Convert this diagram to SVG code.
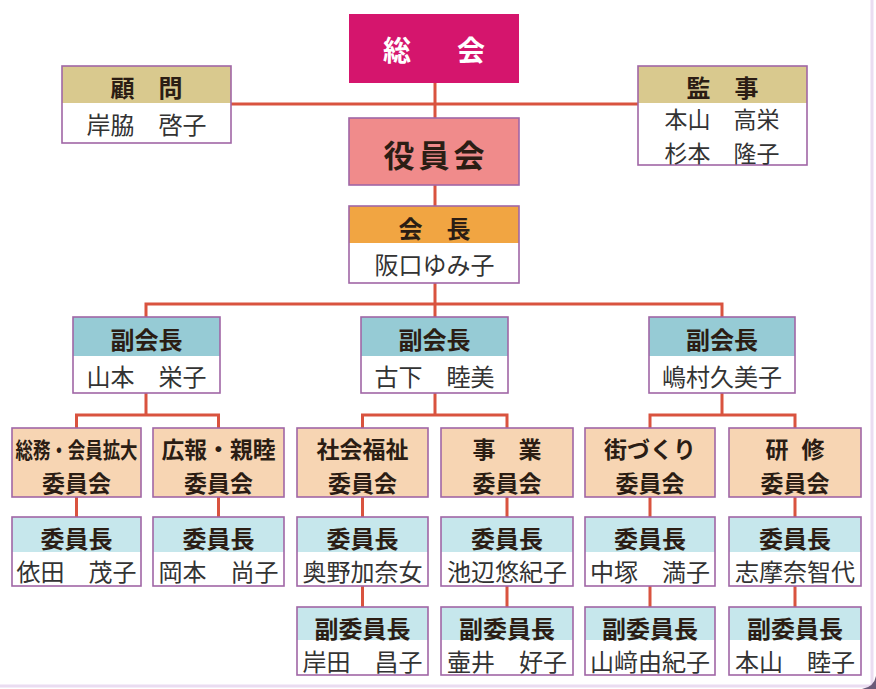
<svg xmlns="http://www.w3.org/2000/svg" width="876" height="689" viewBox="0 0 876 689">
<style>
text{font-family:"Noto Sans CJK JP","Noto Sans CJK SC",sans-serif;text-anchor:middle;dominant-baseline:central}
.h{font-size:24px;font-weight:bold;fill:#2b1d14}
.n{font-size:24px;fill:#333}
.h2{font-size:23px;font-weight:bold;fill:#2b1d14}
.box{fill:none;stroke:#a066a6;stroke-width:1.6}
.tan{fill:#d9c98e}.org{fill:#f1a542}.tl{fill:#96cbd5}.lt{fill:#c6e7ec}.wh{fill:#fff}
.pch{fill:#f7d5b3;stroke:#a066a6;stroke-width:1.6}
.c{stroke:#d9533f;stroke-width:3;fill:none}
</style>
<rect width="876" height="689" fill="#fff"/>
<path d="M872 0 V686 H0" fill="none" stroke="#eadcf1" stroke-width="3"/>
<path d="M876 676 Q874 687 862 689 H876 Z" fill="#6a5a78"/>
<g id="connectors">
<path class="c" d="M435 83 V118 M231 104 H638 M435 185 V206 M435 283 V317 M146 317 V304 H722 V317"/>
<path class="c" d="M146 393 V415 M76.5 428 V415 H218.5 V428 M435 393 V415 M362.5 428 V415 H507 V428 M722 393 V415 M650 428 V415 H795 V428"/>
<path class="c" d="M76.5 497 V517 M218.5 497 V517 M362.5 497 V517 M507 497 V517 M650 497 V517 M795 497 V517"/>
<path class="c" d="M362.5 586 V607 M507 586 V607 M650 586 V607 M795 586 V607"/>
</g>
<g id="soukai">
<rect x="349" y="14" width="170" height="69" fill="#d5156d"/>
<text x="397 471" y="49" style="font-size:28px;font-weight:bold;fill:#fff">総会</text>
</g>
<g id="komon">
<rect x="62" y="66" width="169" height="77" class="wh"/>
<rect x="62" y="66" width="169" height="37" class="tan"/>
<rect x="62" y="66" width="169" height="77" class="box"/>
<text x="146.5" y="86" class="h">顧　問</text>
<text x="146.5" y="123" class="n">岸脇　啓子</text>
</g>
<g id="kanji">
<rect x="638" y="66" width="169" height="99" class="wh"/>
<rect x="638" y="66" width="169" height="37" class="tan"/>
<rect x="638" y="66" width="169" height="99" class="box"/>
<text x="722.5" y="86" class="h">監　事</text>
<text x="722" y="118" class="n" style="font-size:23px">本山　高栄</text>
<text x="722" y="152" class="n" style="font-size:23px">杉本　隆子</text>
</g>
<g id="yakuinkai">
<rect x="349" y="118" width="170" height="67" style="fill:#f08b8b;stroke:#a066a6;stroke-width:1.6"/>
<text x="436" y="153" style="font-size:31px;font-weight:bold;fill:#2b1d14;letter-spacing:4px">役員会</text>
</g>
<g id="kaicho">
<rect x="349" y="206" width="170" height="77" class="wh"/>
<rect x="349" y="206" width="170" height="37" class="org"/>
<rect x="349" y="206" width="170" height="77" class="box"/>
<text x="434.5" y="227" class="h">会　長</text>
<text x="434.5" y="263" class="n">阪口ゆみ子</text>
</g>
<g id="fukukaicho1">
<rect x="73" y="317" width="147" height="76" class="wh"/>
<rect x="73" y="317" width="147" height="39" class="tl"/>
<rect x="73" y="317" width="147" height="76" class="box"/>
<text x="146.5" y="338" class="h">副会長</text>
<text x="146.5" y="375" class="n">山本　栄子</text>
</g>
<g id="fukukaicho2">
<rect x="361" y="317" width="147" height="76" class="wh"/>
<rect x="361" y="317" width="147" height="39" class="tl"/>
<rect x="361" y="317" width="147" height="76" class="box"/>
<text x="434.5" y="338" class="h">副会長</text>
<text x="434.5" y="375" class="n">古下　睦美</text>
</g>
<g id="fukukaicho3">
<rect x="649" y="317" width="146" height="76" class="wh"/>
<rect x="649" y="317" width="146" height="39" class="tl"/>
<rect x="649" y="317" width="146" height="76" class="box"/>
<text x="722" y="338" class="h">副会長</text>
<text x="722" y="375" class="n">嶋村久美子</text>
</g>
<g id="iinkai-soumu">
<rect x="12" y="428" width="129" height="69" class="pch"/>
<text x="76.5" y="447.5" class="h2" style="font-size:22px" textLength="122" lengthAdjust="spacingAndGlyphs">総務・会員拡大</text>
<text x="76.5" y="481.5" class="h2">委員会</text>
</g>
<g id="iinkai-kouhou">
<rect x="153" y="428" width="131" height="69" class="pch"/>
<text x="218.5" y="447.5" class="h2" textLength="114" lengthAdjust="spacingAndGlyphs">広報・親睦</text>
<text x="218.5" y="481.5" class="h2">委員会</text>
</g>
<g id="iinkai-shakai">
<rect x="297" y="428" width="131" height="69" class="pch"/>
<text x="362.5" y="447.5" class="h2">社会福祉</text>
<text x="362.5" y="481.5" class="h2">委員会</text>
</g>
<g id="iinkai-jigyou">
<rect x="441" y="428" width="132" height="69" class="pch"/>
<text x="507" y="447.5" class="h2">事　業</text>
<text x="507" y="481.5" class="h2">委員会</text>
</g>
<g id="iinkai-machi">
<rect x="585" y="428" width="130" height="69" class="pch"/>
<text x="650" y="447.5" class="h2">街づくり</text>
<text x="650" y="481.5" class="h2">委員会</text>
</g>
<g id="iinkai-kenshu">
<rect x="729" y="428" width="132" height="69" class="pch"/>
<text x="795" y="447.5" class="h2">研<tspan dx="8"> 修</tspan></text>
<text x="795" y="481.5" class="h2">委員会</text>
</g>
<g id="iincho-a">
<rect x="12" y="517" width="129" height="69" class="wh"/>
<rect x="12" y="517" width="129" height="35" class="lt"/>
<rect x="12" y="517" width="129" height="69" class="box"/>
<text x="76.5" y="537" class="h">委員長</text>
<text x="76.5" y="570" class="n">依田　茂子</text>
</g>
<g id="iincho-b">
<rect x="153" y="517" width="131" height="69" class="wh"/>
<rect x="153" y="517" width="131" height="35" class="lt"/>
<rect x="153" y="517" width="131" height="69" class="box"/>
<text x="218.5" y="537" class="h">委員長</text>
<text x="218.5" y="570" class="n">岡本　尚子</text>
</g>
<g id="iincho-c">
<rect x="297" y="517" width="131" height="69" class="wh"/>
<rect x="297" y="517" width="131" height="35" class="lt"/>
<rect x="297" y="517" width="131" height="69" class="box"/>
<text x="362.5" y="537" class="h">委員長</text>
<text x="362.5" y="570" class="n">奥野加奈女</text>
</g>
<g id="iincho-d">
<rect x="441" y="517" width="132" height="69" class="wh"/>
<rect x="441" y="517" width="132" height="35" class="lt"/>
<rect x="441" y="517" width="132" height="69" class="box"/>
<text x="507" y="537" class="h">委員長</text>
<text x="507" y="570" class="n">池辺悠紀子</text>
</g>
<g id="iincho-e">
<rect x="585" y="517" width="130" height="69" class="wh"/>
<rect x="585" y="517" width="130" height="35" class="lt"/>
<rect x="585" y="517" width="130" height="69" class="box"/>
<text x="650" y="537" class="h">委員長</text>
<text x="650" y="570" class="n">中塚　満子</text>
</g>
<g id="iincho-f">
<rect x="729" y="517" width="132" height="69" class="wh"/>
<rect x="729" y="517" width="132" height="35" class="lt"/>
<rect x="729" y="517" width="132" height="69" class="box"/>
<text x="795" y="537" class="h">委員長</text>
<text x="795" y="570" class="n">志摩奈智代</text>
</g>
<g id="fukuiincho-c">
<rect x="297" y="607" width="131" height="68" class="wh"/>
<rect x="297" y="607" width="131" height="33" class="lt"/>
<rect x="297" y="607" width="131" height="68" class="box"/>
<text x="362.5" y="627" class="h">副委員長</text>
<text x="362.5" y="660" class="n">岸田　昌子</text>
</g>
<g id="fukuiincho-d">
<rect x="441" y="607" width="132" height="68" class="wh"/>
<rect x="441" y="607" width="132" height="33" class="lt"/>
<rect x="441" y="607" width="132" height="68" class="box"/>
<text x="507" y="627" class="h">副委員長</text>
<text x="507" y="660" class="n">壷井　好子</text>
</g>
<g id="fukuiincho-e">
<rect x="585" y="607" width="130" height="68" class="wh"/>
<rect x="585" y="607" width="130" height="33" class="lt"/>
<rect x="585" y="607" width="130" height="68" class="box"/>
<text x="650" y="627" class="h">副委員長</text>
<text x="650" y="660" class="n">山﨑由紀子</text>
</g>
<g id="fukuiincho-f">
<rect x="729" y="607" width="132" height="68" class="wh"/>
<rect x="729" y="607" width="132" height="33" class="lt"/>
<rect x="729" y="607" width="132" height="68" class="box"/>
<text x="795" y="627" class="h">副委員長</text>
<text x="795" y="660" class="n">本山　睦子</text>
</g>
</svg>
